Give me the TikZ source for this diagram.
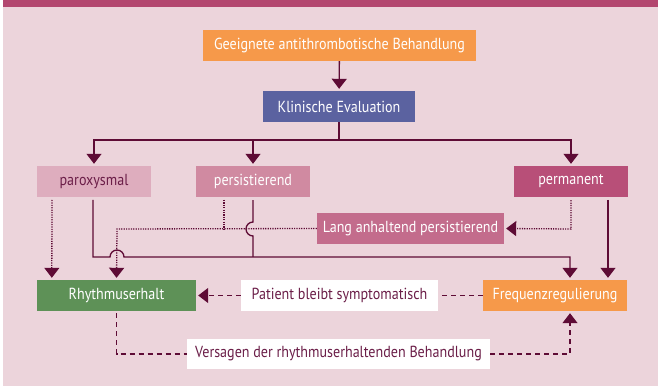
\documentclass[tikz,border=0pt]{standalone}
\usepackage{fontspec}
\setmainfont{PT Sans}[FakeStretch=0.88]
\usetikzlibrary{arrows.meta}

\definecolor{bgpink}{HTML}{ECD4DB}
\definecolor{headpink}{HTML}{B3466F}
\definecolor{linecol}{HTML}{5E0B35}
\definecolor{orangebox}{HTML}{F6994A}
\definecolor{bluebox}{HTML}{5B62A0}
\definecolor{paroxcol}{HTML}{DEADBE}
\definecolor{persistcol}{HTML}{D08AA1}
\definecolor{permcol}{HTML}{B84F78}
\definecolor{langcol}{HTML}{C36C8C}
\definecolor{greenbox}{HTML}{5E9157}
\definecolor{darktext}{HTML}{6B1E48}

\begin{document}
\begin{tikzpicture}[x=1pt, y=-1pt,
        box/.style={rectangle, text=white, minimum height=31pt, inner sep=0pt, font=\fontsize{16}{18}\selectfont},
        link/.style={draw=linecol, line width=1.3pt},
        tip/.style={-{Triangle[width=15pt,length=10pt]}, shorten >=2pt},
        dots/.style={link, dash pattern=on 1.2pt off 1.2pt},
        dashes/.style={link, dash pattern=on 5pt off 4pt}
    ]

    % Background
    \useasboundingbox (0,0) rectangle (658,387);
    \fill[bgpink] (3,7) rectangle (658,386);
    \fill[headpink] (3,0) rectangle (658,7);

    % Define boxes
    \node[box, fill=orangebox, minimum width=273pt] (geeig) at (339.5,45.5) {Geeignete antithrombotische Behandlung};
    \node[box, fill=bluebox, minimum width=152pt] (klin) at (339,106.5) {Klinische Evaluation};
    \node[box, fill=paroxcol, text=darktext, minimum width=114pt] (parox) at (94,181.5) {paroxysmal};
    \node[box, fill=persistcol, minimum width=114pt] (persist) at (253,181.5) {persistierend};
    \node[box, fill=permcol, minimum width=114pt] (perm) at (571,181.5) {permanent};
    \node[box, fill=langcol, minimum width=187pt] (lang) at (410.5,228.5) {Lang anhaltend persistierend};
    \node[box, fill=greenbox, minimum width=159pt] (rhythm) at (116.5,295.5) {Rhythmuserhalt};
    \node[box, fill=white, text=darktext, minimum width=197pt] (patient) at (339.5,295.5) {Patient bleibt symptomatisch};
    \node[box, fill=orangebox, minimum width=144pt] (freq) at (555,295.5) {Frequenzregulierung};
    \node[box, fill=white, text=darktext, minimum width=303pt, minimum height=30pt] (versagen) at (338.5,354) {Versagen der rhythmuserhaltenden Behandlung};

    % Top part
    \coordinate (split) at (339,140);
    \draw[link, tip] (geeig) -- (klin);
    \draw[link] (klin) -- (split);
    \draw[link, tip] (split) -| (parox.north);
    \draw[link, tip] (split) -| (persist.north);
    \draw[link, tip] (split) -| (perm.north);

    % Solid lines to Frequenzregulierung
    \draw[link, tip, shorten <=3pt] (93,197) -- (93,257) -- (110,257)
        arc[start angle=180, end angle=0, radius=7pt] -- (570,257) -- ([xshift=15pt]freq.north);
    \draw[link, shorten <=3pt] (persist.south) -- (253,222)
        arc[start angle=90, end angle=270, radius=7pt] -- (253,257);
    \draw[link, tip, shorten <=3pt] (608,197) -- ([xshift=53pt]freq.north);

    % Dotted lines
    \draw[dots, tip, shorten <=3pt] (52,197) -- ([xshift=15pt]rhythm.north west);
    \draw[dots, tip] (lang.west) -- (117,229) -- (rhythm.north);
    \draw[dots, shorten <=3pt] (224,197) -- (224,229);
    \draw[dots, tip, shorten <=3pt] (perm.south) -- (571,229) -- (lang.east);

    % Dashed lines
    \draw[dashes] (freq.west) -- (patient.east);
    \draw[dashes, tip] (patient.west) -- (rhythm.east);
    \draw[dashes, shorten <=2pt] (rhythm.south) -- (116.5,354) -- (versagen.west);
    \draw[dashes, tip] (versagen.east) -- (570,354) -- ([xshift=15pt]freq.south);

\end{tikzpicture}
\end{document}
